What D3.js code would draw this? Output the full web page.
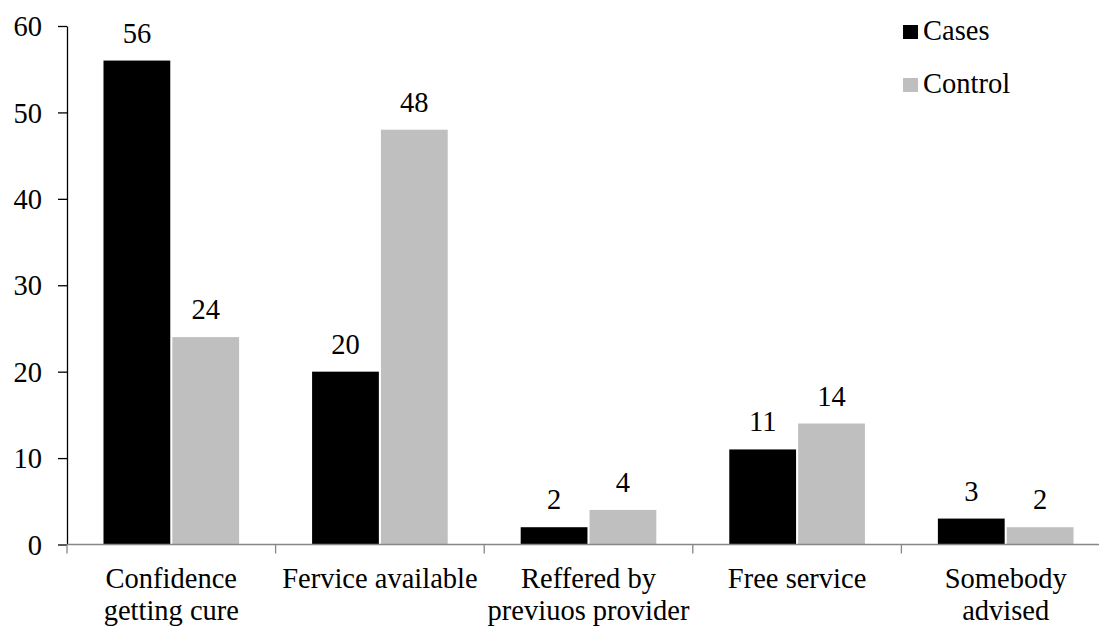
<!DOCTYPE html>
<html>
<head>
<meta charset="utf-8">
<script src="https://cdn.jsdelivr.net/npm/d3@7"></script>
</head>
<body style="margin:0">
<svg id="fig" width="1099" height="626" style="display:block;font-family:'Liberation Serif'"></svg>
<script>
// Reasons for choosing the provider, cases vs control
const categories = [
  ["Confidence", "getting cure"],
  ["Fervice available"],
  ["Reffered by", "previuos provider"],
  ["Free service"],
  ["Somebody", "advised"]
];
const seriesNames = ["Cases", "Control"];
const casesValues = [56, 20, 2, 11, 3];
const controlValues = [24, 48, 4, 14, 2];
const yTicks = [0, 10, 20, 30, 40, 50, 60];

const colors = { Cases: "#000000", Control: "#bfbfbf" };
const serifFace = "Liberation Serif";
const labelSize = "28.5px";

const svg = d3.select("#fig");
const plotLeft = 67, plotRight = 1110, plotTop = 26, plotBottom = 544.5;

const keys = categories.map((c, i) => i);
const x = d3.scaleBand().domain(keys).range([plotLeft, plotRight]).paddingInner(0).paddingOuter(0);
const inner = d3.scaleBand().domain(seriesNames).range([0, x.bandwidth()]).paddingInner(0.03).paddingOuter(0.53);
const y = d3.scaleLinear().domain([0, 60]).range([plotBottom, plotTop]);

const rows = keys.map(i => ({ i, Cases: casesValues[i], Control: controlValues[i] }));

function serif(sel) {
  return sel.style("font-family", serifFace).style("font-size", labelSize).attr("fill", "#000");
}

// Bars
const groups = svg.append("g").selectAll("g").data(rows).join("g")
  .attr("transform", d => `translate(${x(d.i)},0)`);

groups.selectAll("rect").data(d => seriesNames.map(s => ({ s, v: d[s] }))).join("rect")
  .attr("x", d => inner(d.s))
  .attr("width", inner.bandwidth())
  .attr("y", d => y(d.v))
  .attr("height", d => y(0) - y(d.v))
  .attr("fill", d => colors[d.s]);

// Value labels
groups.selectAll("text.val").data(d => seriesNames.map(s => ({ s, v: d[s] }))).join("text")
  .attr("class", "val")
  .attr("x", d => inner(d.s) + inner.bandwidth() / 2)
  .attr("y", d => y(d.v) - 18)
  .attr("text-anchor", "middle")
  .call(serif)
  .text(d => d.v);

// Y axis
const yAxis = svg.append("g")
  .attr("transform", `translate(${plotLeft},0)`)
  .call(d3.axisLeft(y).tickValues(yTicks).tickSize(9).tickSizeOuter(0).tickPadding(16));
yAxis.attr("font-family", null).attr("font-size", null);
yAxis.select(".domain").attr("stroke", "#000").attr("stroke-width", 1.3);
yAxis.selectAll(".tick line").attr("stroke", "#000").attr("stroke-width", 1.3);
yAxis.selectAll(".tick text").call(serif).attr("dy", "0.34em");

// X axis with ticks at category boundaries
const xg = svg.append("g").attr("transform", `translate(0,${plotBottom})`);
xg.append("line").attr("x1", plotLeft).attr("x2", plotRight).attr("y1", 0).attr("y2", 0)
  .attr("stroke", "#868686").attr("stroke-width", 1.3);
const bounds = keys.map(i => x(i)).concat([plotRight]);
xg.selectAll("line.tk").data(bounds).join("line").attr("class", "tk")
  .attr("x1", d => d).attr("x2", d => d).attr("y1", 0).attr("y2", 9)
  .attr("stroke", "#868686").attr("stroke-width", 1.3);

// Category labels
const labels = xg.selectAll("text.cat").data(rows).join("text").attr("class", "cat")
  .attr("text-anchor", "middle")
  .call(serif)
  .attr("transform", d => `translate(${x(d.i) + x.bandwidth() / 2},0)`);
labels.selectAll("tspan").data(d => categories[d.i]).join("tspan")
  .attr("x", 0)
  .attr("y", (d, j) => 43.5 + j * 31.5)
  .text(d => d);

// Legend
const legend = svg.append("g").attr("transform", "translate(903,0)");
seriesNames.forEach((s, j) => {
  legend.append("rect").attr("x", 0).attr("y", 25 + j * 53).attr("width", 15).attr("height", 14).attr("fill", colors[s]);
  legend.append("text").attr("x", 20).attr("y", 39.5 + j * 53).call(serif).text(s);
});
</script>
</body>
</html>
